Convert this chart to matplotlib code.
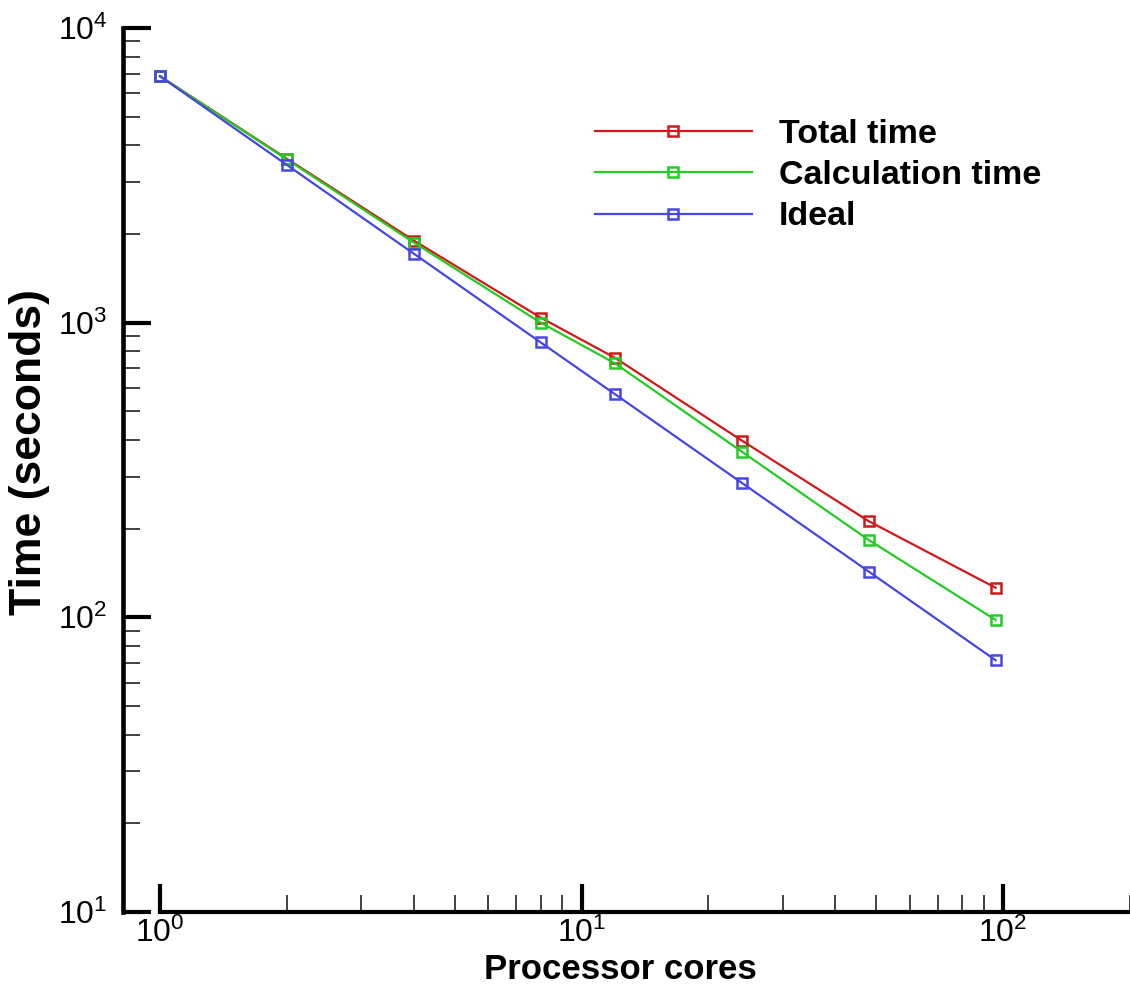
import math
import matplotlib
matplotlib.use("Agg")
import matplotlib.pyplot as plt
from matplotlib.ticker import LogLocator, FixedLocator, FuncFormatter, NullFormatter

plt.rcParams['font.family'] = ['Liberation Sans', 'DejaVu Sans']
plt.rcParams['mathtext.fontset'] = 'custom'
plt.rcParams['mathtext.rm'] = 'Liberation Sans'
plt.rcParams['mathtext.it'] = 'Liberation Sans:italic'
plt.rcParams['mathtext.bf'] = 'Liberation Sans:bold'

# ---- data ----
cores = [1, 2, 4, 8, 12, 24, 48, 96]
total_time = [6860, 3600, 1900, 1040, 760, 398, 212, 126]
calc_time = [6860, 3580, 1870, 1000, 728, 365, 183, 98]
ideal_time = [6860, 3430, 1715, 857, 572, 286, 143, 71.5]
series_labels = ["Total time", "Calculation time", "Ideal"]
series_colors = ["#d01818", "#22cc22", "#4646e6"]
x_label = "Processor cores"
y_label = "Time (seconds)"

W, H = 1130, 991
fig = plt.figure(figsize=(W / 100, H / 100), dpi=100)
ax = fig.add_axes([123 / W, (H - 912) / H, 1 - 123 / W, (912 - 28) / H])

for ys, lab, col in zip([total_time, calc_time, ideal_time], series_labels, series_colors):
    ax.plot(cores, ys, color=col, lw=1.6, marker='s', markersize=7.5,
            markerfacecolor='none', markeredgecolor=col, markeredgewidth=1.8,
            label=lab)

ax.set_xscale('log')
ax.set_yscale('log')
xmin, xmax = 0.817, 200
ax.set_xlim(xmin, xmax)
ax.set_ylim(10, 1e4)

for s in ['top', 'right']:
    ax.spines[s].set_visible(False)
ax.spines['left'].set_linewidth(3.3)
ax.spines['bottom'].set_linewidth(3.0)
ax.spines['bottom'].set_bounds(1, xmax)
ax.spines['left'].set_bounds(10, 1e4)

fmt = FuncFormatter(lambda v, p: r'$\mathregular{10^{%d}}$' % round(math.log10(v)))
for axis in (ax.xaxis, ax.yaxis):
    axis.set_major_locator(LogLocator(base=10, numticks=10))
    axis.set_major_formatter(fmt)
    axis.set_minor_formatter(NullFormatter())
ax.yaxis.set_minor_locator(LogLocator(base=10, subs=range(2, 10), numticks=30))
x_minor = [m * 10 ** e for e in range(0, 3) for m in range(2, 10) if m * 10 ** e <= xmax]
ax.xaxis.set_minor_locator(FixedLocator(x_minor))

ax.tick_params(which='major', direction='in', length=20, width=3.0, labelsize=23,
               color='black')
ax.tick_params(which='minor', direction='in', length=12, width=1.3, color='#333333')
ax.tick_params(axis='y', which='major', pad=11)
ax.tick_params(axis='x', which='major', pad=4)

ax.set_xlabel(x_label, fontsize=25, fontweight='bold')
ax.set_ylabel(y_label, fontsize=32, fontweight='bold')
ax.xaxis.set_label_coords((620 - 123) / 1007, (912 - 953) / 884)
ax.yaxis.set_label_coords((50 - 123) / 1007, (912 - 452) / 884)

leg = ax.legend(loc='upper left', bbox_to_anchor=(595 / W, 1 - 119 / H),
                bbox_transform=fig.transFigure, frameon=False,
                prop={'weight': 'bold', 'size': 24.5},
                handlelength=4.6, handletextpad=0.8, labelspacing=0.3,
                borderpad=0, borderaxespad=0, numpoints=1)

fig.savefig("out.png", dpi=100)
